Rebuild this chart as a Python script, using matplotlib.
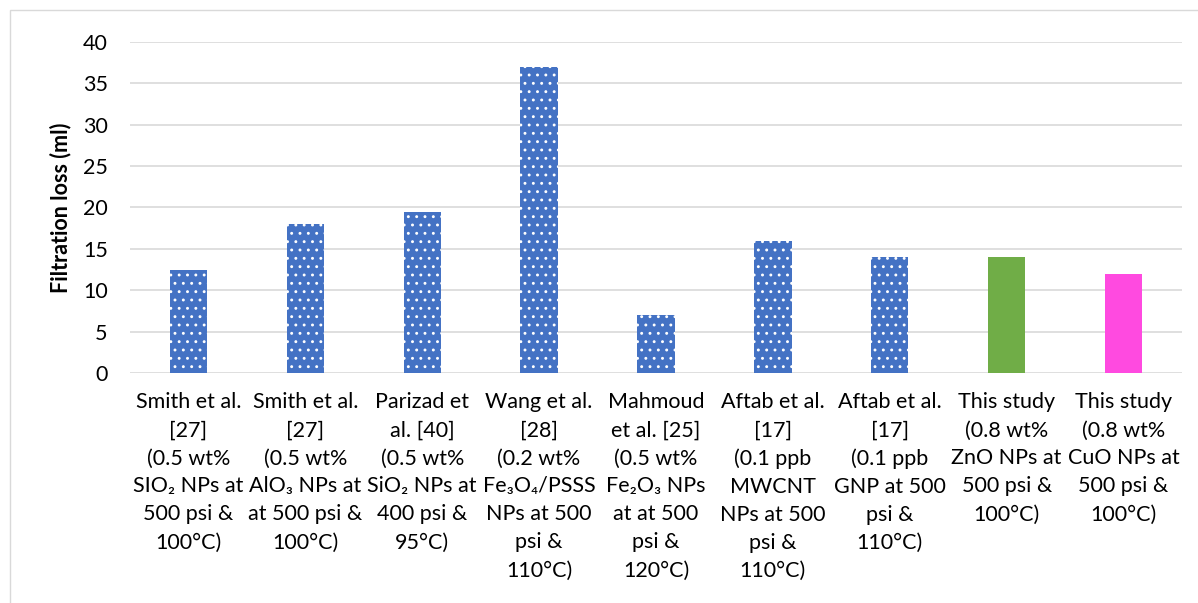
import matplotlib.pyplot as plt
from matplotlib.patches import Rectangle

plt.rcParams["font.family"] = ["Lato", "DejaVu Sans"]
plt.rcParams["hatch.linewidth"] = 0.9

# ── Daten ──
labels = [
    "Smith et al.\n[27]\n(0.5 wt%\nSIO₂ NPs at\n500 psi &\n100°C)",
    "Smith et al.\n[27]\n(0.5 wt%\nAlO₃ NPs at\nat 500 psi &\n100°C)",
    "Parizad et\nal. [40]\n(0.5 wt%\nSiO₂ NPs at\n400 psi &\n95°C)",
    "Wang et al.\n[28]\n(0.2 wt%\nFe₃O₄/PSSS\nNPs at 500\npsi &\n110°C)",
    "Mahmoud\net al. [25]\n(0.5 wt%\nFe₂O₃ NPs\nat at 500\npsi &\n120°C)",
    "Aftab et al.\n[17]\n(0.1 ppb\nMWCNT\nNPs at 500\npsi &\n110°C)",
    "Aftab et al.\n[17]\n(0.1 ppb\nGNP at 500\npsi &\n110°C)",
    "This study\n(0.8 wt%\nZnO NPs at\n500 psi &\n100°C)",
    "This study\n(0.8 wt%\nCuO NPs at\n500 psi &\n100°C)",
]
filtration_loss = [12.5, 18, 19.5, 37, 7, 16, 14, 14, 12]
y_ticks = [0, 5, 10, 15, 20, 25, 30, 35, 40]

blue = "#4472C4"
bar_colors = [blue] * 7 + ["#70AD47", "#FF4AE0"]
hatches = [".."] * 7 + [None, None]

fig = plt.figure(figsize=(11.98, 6.03), dpi=100)
ax = fig.add_axes([130 / 1198, 1 - 373 / 603, (1182 - 130) / 1198, (373 - 42) / 603])

x = range(len(labels))
for i in x:
    ax.bar(i, filtration_loss[i], width=0.32, color=bar_colors[i],
           hatch=hatches[i], edgecolor="white" if hatches[i] else bar_colors[i],
           linewidth=0, zorder=3)

ax.set_xlim(-0.5, len(labels) - 0.5)
ax.set_ylim(0, 40)
ax.set_yticks(y_ticks)
ax.set_xticks(list(x))
ax.set_xticklabels(labels, fontsize=15.5, linespacing=1.5, va="top")
ax.tick_params(axis="both", length=0, labelsize=15.5, colors="black")
ax.tick_params(axis="x", pad=14)
ax.tick_params(axis="y", pad=16)
ax.grid(axis="y", color="#D9D9D9", linewidth=1.2, zorder=0)
for s in ax.spines.values():
    s.set_visible(False)
ax.set_ylabel("Filtration loss (ml)", fontsize=15.5, fontweight="bold", labelpad=8)

# Rahmen
fig.patches.append(Rectangle((10 / 1198, -0.1), 1.2, 1 - 10 / 603 + 0.1,
                             transform=fig.transFigure, fill=False,
                             edgecolor="#D9D9D9", linewidth=1.0))

fig.savefig("out.png", dpi=100)
